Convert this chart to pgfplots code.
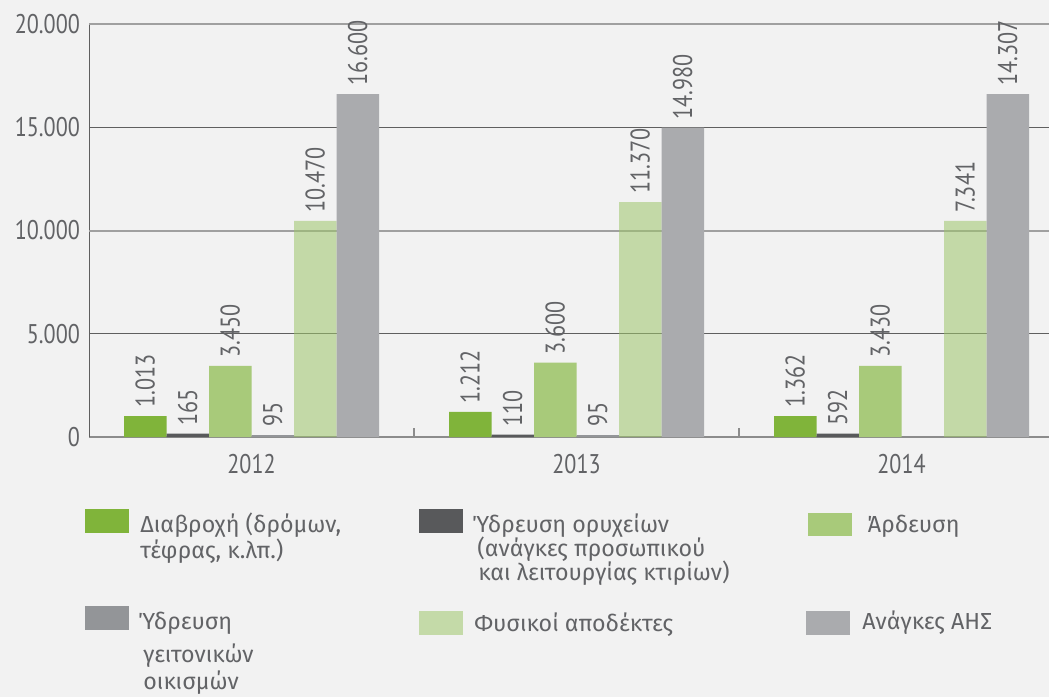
\documentclass[border=0pt]{standalone}
\usepackage{fontspec}
\setmainfont{Fira Sans}
\newfontfamily\legfont{Fira Sans}
\newfontfamily\numfont{PT Sans}[FakeStretch=0.82]
\usepackage{pgfplots}
\pgfplotsset{compat=1.18}

\definecolor{bg}{RGB}{242,242,242}
\definecolor{txt}{RGB}{98,99,102}
\definecolor{cA}{RGB}{128,180,58}
\definecolor{cB}{RGB}{88,89,91}
\definecolor{cC}{RGB}{168,202,122}
\definecolor{cD}{RGB}{147,149,152}
\definecolor{cE}{RGB}{196,218,168}
\definecolor{cEbase}{RGB}{158,198,107}
\definecolor{cF}{RGB}{170,171,174}
\definecolor{gdark}{RGB}{95,95,95}
\definecolor{glight}{RGB}{160,160,160}
\definecolor{xax}{RGB}{140,140,140}

\newcommand{\numf}{\numfont\fontsize{13.5}{16}\selectfont}
\newcommand{\legf}{\legfont\fontsize{11.6}{14}\selectfont}

\begin{document}
\begin{tikzpicture}
\useasboundingbox (0,0) rectangle (524.5pt,348.5pt);
\fill[bg] (0,0) rectangle (524.5pt,348.5pt);

\begin{axis}[
  at={(44.5pt,130pt)}, anchor=south west,
  scale only axis, width=480pt, height=206.5pt,
  xmin=-0.5, xmax=2.4538, ymin=0, ymax=20000,
  ybar=0pt, bar width=21.25pt,
  axis x line=bottom, axis y line=left,
  x axis line style={-, draw=xax, line width=1pt},
  y axis line style={-, draw=gdark, line width=0.5pt},
  xtick={0,1,2}, xticklabels={2012,2013,2014},
  minor xtick={0.5,1.5},
  major tick length=0pt, minor tick length=4.5pt, tick align=inside,
  minor tick style={draw=xax, line width=1pt},
  ytick={0,5000,15000}, extra y ticks={10000,20000},
  extra y tick style={major grid style={draw=glight, line width=1pt}},
  ymajorgrids, major grid style={draw=gdark, line width=0.5pt},
  scaled y ticks=false,
  /pgf/number format/1000 sep={.},
  /pgf/number format/assume math mode=true,
  ticklabel style={font=\numf, text=txt},
  yticklabel style={xshift=-1pt},
  xticklabel style={yshift=-5pt},
  point meta=explicit symbolic,
  nodes near coords,
  every node near coord/.append style={rotate=90, anchor=west, font=\numf,
    text=txt, inner xsep=4pt, inner ysep=0pt, fill opacity=1, text opacity=1},
]
\addplot[fill=cA, draw=none] coordinates {(0,1013) [1.013] (1,1212) [1.212] (2,1013) [1.362]};
\addplot[fill=cB, draw=none] coordinates {(0,165) [165] (1,110) [110] (2,165) [592]};
\addplot[fill=cC, draw=none] coordinates {(0,3450) [3.450] (1,3600) [3.600] (2,3450) [3.430]};
\addplot[fill=cD, draw=none] coordinates {(0,95) [95] (1,95) [95]};
\addplot[fill=cEbase, fill opacity=0.55, draw=none] coordinates {(0,10470) [10.470] (1,11370) [11.370] (2,10470) [7.341]};
\addplot[fill=cF, draw=none] coordinates {(0,16600) [16.600] (1,14980) [14.980] (2,16600) [14.307]};
\end{axis}

\begin{scope}[shift={(0,348.5pt)}, x=0.5pt, y=-0.5pt]
\fill[cA] (85,509) rectangle (129,533);
\fill[cB] (419,509) rectangle (463,533);
\fill[cC] (808,513) rectangle (852,536);
\fill[cD] (85,606) rectangle (129,630);
\fill[cE] (419,611) rectangle (463,635);
\fill[cF] (806,611) rectangle (850,635);
\begin{scope}[every node/.style={anchor=base west, inner sep=0pt, font=\legf, text=txt}]
\node at (140,532) {Διαβροχή (δρόμων,};
\node at (140,558) {τέφρας, κ.λπ.)};
\node at (472,532) {Ύδρευση ορυχείων};
\node at (477,556) {(ανάγκες προσωπικού};
\node at (478,580) {και λειτουργίας κτιρίων)};
\node at (867,532) {Άρδευση};
\node at (138,629) {Ύδρευση};
\node at (143,662) {γειτονικών};
\node at (143,689) {οικισμών};
\node at (474,631) {Φυσικοί αποδέκτες};
\node at (862,629) {Ανάγκες ΑΗΣ};
\end{scope}
\end{scope}
\end{tikzpicture}
\end{document}
